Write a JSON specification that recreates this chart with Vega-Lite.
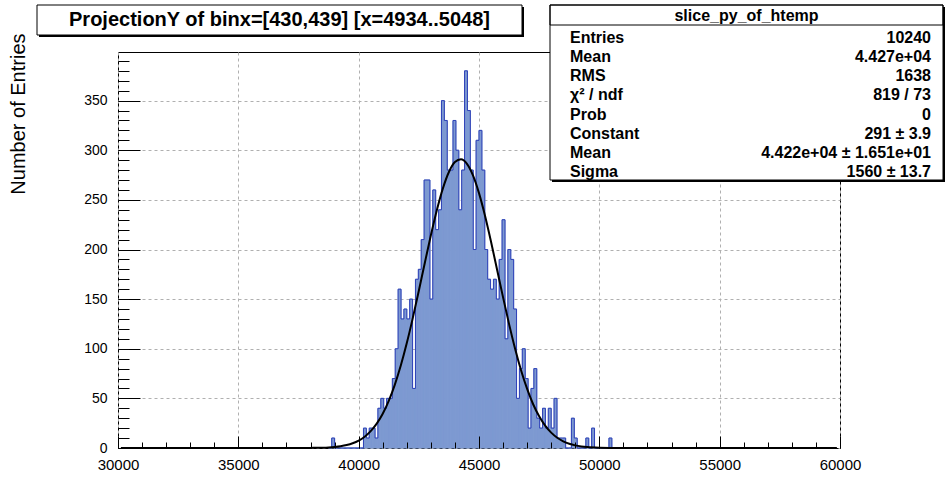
{
  "$schema": "https://vega.github.io/schema/vega-lite/v6.json",
  "autosize": {"type": "none"},
  "width": 722,
  "height": 396,
  "padding": {"left": 118, "top": 52, "right": 106, "bottom": 29},
  "background": "white",
  "config": {
    "view": {"stroke": "black", "strokeWidth": 1},
    "font": "Liberation Sans"
  },
  "datasets": {
    "hist": [
      {"lo": 38760, "hi": 38880, "n": 0},
      {"lo": 38880, "hi": 39000, "n": 10},
      {"lo": 39000, "hi": 39120, "n": 0},
      {"lo": 39120, "hi": 39240, "n": 0},
      {"lo": 39240, "hi": 39360, "n": 0},
      {"lo": 39360, "hi": 39480, "n": 0},
      {"lo": 39480, "hi": 39600, "n": 0},
      {"lo": 39600, "hi": 39720, "n": 0},
      {"lo": 39720, "hi": 39840, "n": 0},
      {"lo": 39840, "hi": 39960, "n": 0},
      {"lo": 39960, "hi": 40080, "n": 0},
      {"lo": 40080, "hi": 40200, "n": 0},
      {"lo": 40200, "hi": 40320, "n": 20},
      {"lo": 40320, "hi": 40440, "n": 10},
      {"lo": 40440, "hi": 40560, "n": 20},
      {"lo": 40560, "hi": 40680, "n": 20},
      {"lo": 40680, "hi": 40800, "n": 10},
      {"lo": 40800, "hi": 40920, "n": 40},
      {"lo": 40920, "hi": 41040, "n": 50},
      {"lo": 41040, "hi": 41160, "n": 40},
      {"lo": 41160, "hi": 41280, "n": 50},
      {"lo": 41280, "hi": 41400, "n": 50},
      {"lo": 41400, "hi": 41520, "n": 70},
      {"lo": 41520, "hi": 41640, "n": 100},
      {"lo": 41640, "hi": 41760, "n": 160},
      {"lo": 41760, "hi": 41880, "n": 130},
      {"lo": 41880, "hi": 42000, "n": 140},
      {"lo": 42000, "hi": 42120, "n": 130},
      {"lo": 42120, "hi": 42240, "n": 150},
      {"lo": 42240, "hi": 42360, "n": 60},
      {"lo": 42360, "hi": 42480, "n": 170},
      {"lo": 42480, "hi": 42600, "n": 180},
      {"lo": 42600, "hi": 42720, "n": 210},
      {"lo": 42720, "hi": 42840, "n": 270},
      {"lo": 42840, "hi": 42960, "n": 270},
      {"lo": 42960, "hi": 43080, "n": 150},
      {"lo": 43080, "hi": 43200, "n": 260},
      {"lo": 43200, "hi": 43320, "n": 220},
      {"lo": 43320, "hi": 43440, "n": 240},
      {"lo": 43440, "hi": 43560, "n": 350},
      {"lo": 43560, "hi": 43680, "n": 330},
      {"lo": 43680, "hi": 43800, "n": 280},
      {"lo": 43800, "hi": 43920, "n": 280},
      {"lo": 43920, "hi": 44040, "n": 330},
      {"lo": 44040, "hi": 44160, "n": 300},
      {"lo": 44160, "hi": 44280, "n": 240},
      {"lo": 44280, "hi": 44400, "n": 280},
      {"lo": 44400, "hi": 44520, "n": 380},
      {"lo": 44520, "hi": 44640, "n": 340},
      {"lo": 44640, "hi": 44760, "n": 280},
      {"lo": 44760, "hi": 44880, "n": 200},
      {"lo": 44880, "hi": 45000, "n": 310},
      {"lo": 45000, "hi": 45120, "n": 320},
      {"lo": 45120, "hi": 45240, "n": 280},
      {"lo": 45240, "hi": 45360, "n": 200},
      {"lo": 45360, "hi": 45480, "n": 170},
      {"lo": 45480, "hi": 45600, "n": 160},
      {"lo": 45600, "hi": 45720, "n": 170},
      {"lo": 45720, "hi": 45840, "n": 150},
      {"lo": 45840, "hi": 45960, "n": 190},
      {"lo": 45960, "hi": 46080, "n": 230},
      {"lo": 46080, "hi": 46200, "n": 110},
      {"lo": 46200, "hi": 46320, "n": 200},
      {"lo": 46320, "hi": 46440, "n": 190},
      {"lo": 46440, "hi": 46560, "n": 140},
      {"lo": 46560, "hi": 46680, "n": 50},
      {"lo": 46680, "hi": 46800, "n": 80},
      {"lo": 46800, "hi": 46920, "n": 100},
      {"lo": 46920, "hi": 47040, "n": 70},
      {"lo": 47040, "hi": 47160, "n": 20},
      {"lo": 47160, "hi": 47280, "n": 60},
      {"lo": 47280, "hi": 47400, "n": 80},
      {"lo": 47400, "hi": 47520, "n": 30},
      {"lo": 47520, "hi": 47640, "n": 20},
      {"lo": 47640, "hi": 47760, "n": 40},
      {"lo": 47760, "hi": 47880, "n": 20},
      {"lo": 47880, "hi": 48000, "n": 40},
      {"lo": 48000, "hi": 48120, "n": 20},
      {"lo": 48120, "hi": 48240, "n": 50},
      {"lo": 48240, "hi": 48360, "n": 10},
      {"lo": 48360, "hi": 48480, "n": 10},
      {"lo": 48480, "hi": 48600, "n": 10},
      {"lo": 48600, "hi": 48720, "n": 0},
      {"lo": 48720, "hi": 48840, "n": 0},
      {"lo": 48840, "hi": 48960, "n": 30},
      {"lo": 48960, "hi": 49080, "n": 10},
      {"lo": 49080, "hi": 49200, "n": 0},
      {"lo": 49200, "hi": 49320, "n": 0},
      {"lo": 49320, "hi": 49440, "n": 0},
      {"lo": 49440, "hi": 49560, "n": 10},
      {"lo": 49560, "hi": 49680, "n": 0},
      {"lo": 49680, "hi": 49800, "n": 20},
      {"lo": 49800, "hi": 49920, "n": 0},
      {"lo": 49920, "hi": 50040, "n": 0},
      {"lo": 50040, "hi": 50160, "n": 0},
      {"lo": 50160, "hi": 50280, "n": 0},
      {"lo": 50280, "hi": 50400, "n": 0},
      {"lo": 50400, "hi": 50520, "n": 10},
      {"lo": 50520, "hi": 50640, "n": 0}
    ],
    "fit": [
      {"fx": 30120, "fy": 0}, {"fx": 35000, "fy": 0}, {"fx": 36000, "fy": 0},
      {"fx": 37000, "fy": 0.01}, {"fx": 37500, "fy": 0.03}, {"fx": 38000, "fy": 0.1},
      {"fx": 38250, "fy": 0.19}, {"fx": 38500, "fy": 0.35}, {"fx": 38750, "fy": 0.62},
      {"fx": 39000, "fy": 1.08}, {"fx": 39250, "fy": 1.82}, {"fx": 39500, "fy": 2.99},
      {"fx": 39750, "fy": 4.8}, {"fx": 40000, "fy": 7.5}, {"fx": 40250, "fy": 11.42},
      {"fx": 40500, "fy": 16.95}, {"fx": 40750, "fy": 24.52}, {"fx": 41000, "fy": 34.57},
      {"fx": 41250, "fy": 47.52}, {"fx": 41500, "fy": 63.64}, {"fx": 41750, "fy": 83.11},
      {"fx": 42000, "fy": 105.7}, {"fx": 42250, "fy": 131.1}, {"fx": 42500, "fy": 158.5},
      {"fx": 42750, "fy": 186.7}, {"fx": 43000, "fy": 214.3}, {"fx": 43250, "fy": 239.8},
      {"fx": 43500, "fy": 261.6}, {"fx": 43750, "fy": 278.1}, {"fx": 44000, "fy": 288.1},
      {"fx": 44250, "fy": 290.9}, {"fx": 44500, "fy": 286.3}, {"fx": 44750, "fy": 274.7},
      {"fx": 45000, "fy": 256.8}, {"fx": 45250, "fy": 234.0}, {"fx": 45500, "fy": 207.8},
      {"fx": 45750, "fy": 179.9}, {"fx": 46000, "fy": 151.8}, {"fx": 46250, "fy": 124.8},
      {"fx": 46500, "fy": 100.0}, {"fx": 46750, "fy": 78.1}, {"fx": 47000, "fy": 59.5},
      {"fx": 47250, "fy": 44.1}, {"fx": 47500, "fy": 31.9}, {"fx": 47750, "fy": 22.5},
      {"fx": 48000, "fy": 15.45}, {"fx": 48250, "fy": 10.35}, {"fx": 48500, "fy": 6.75},
      {"fx": 48750, "fy": 4.29}, {"fx": 49000, "fy": 2.66}, {"fx": 49250, "fy": 1.61},
      {"fx": 49500, "fy": 0.95}, {"fx": 50000, "fy": 0.3}, {"fx": 50500, "fy": 0.09},
      {"fx": 51000, "fy": 0.02}, {"fx": 52000, "fy": 0}, {"fx": 59870, "fy": 0}
    ],
    "titlebox": [{"t": "ProjectionY of binx=[430,439] [x=4934..5048]"}],
    "statbox": [{"h": "slice_py_of_htemp"}],
    "stats": [
      {"row": 1, "label": "Entries", "value": "10240"},
      {"row": 2, "label": "Mean", "value": "4.427e+04"},
      {"row": 3, "label": "RMS", "value": "1638"},
      {"row": 4, "label": "χ² / ndf", "value": "819 / 73"},
      {"row": 5, "label": "Prob", "value": "0"},
      {"row": 6, "label": "Constant", "value": "291 ± 3.9"},
      {"row": 7, "label": "Mean", "value": "4.422e+04 ± 1.651e+01"},
      {"row": 8, "label": "Sigma", "value": "1560 ± 13.7"}
    ]
  },
  "layer": [
    {
      "layer": [
        {
          "data": {"name": "hist"},
          "mark": {"type": "rect", "fill": "#7d99d1", "stroke": "#7d99d1", "strokeWidth": 1},
          "encoding": {
            "x": {
              "field": "lo", "type": "quantitative",
              "scale": {"domain": [30000, 60000], "nice": false, "zero": false},
              "axis": {
                "values": [30000, 35000, 40000, 45000, 50000, 55000, 60000],
                "format": "d", "labelFont": "Liberation Sans", "labelFontSize": 15,
                "labelColor": "black", "labelPadding": 9, "ticks": false, "tickSize": 0,
                "domain": false, "grid": true, "gridColor": "#b0b0b0", "gridDash": [3, 3],
                "gridWidth": 1, "title": null, "labelFlush": false, "labelOverlap": false, "labelBound": false
              }
            },
            "x2": {"field": "hi"},
            "y": {
              "field": "n", "type": "quantitative",
              "scale": {"domain": [0, 399], "nice": false, "zero": true},
              "axis": {
                "values": [0, 50, 100, 150, 200, 250, 300, 350],
                "labelFont": "Liberation Sans", "labelFontSize": 14, "labelColor": "black",
                "labelPadding": 11, "ticks": false, "tickSize": 0, "domain": false,
                "grid": true, "gridColor": "#b0b0b0", "gridDash": [3, 3], "gridWidth": 1,
                "labelOverlap": false, "labelBound": false, "labelFlush": false,
                "title": "Number of Entries", "titleFont": "Liberation Sans",
                "titleFontWeight": "normal", "titleFontSize": 20, "titleColor": "black",
                "titleAngle": -90, "titleAlign": "right", "titleBaseline": "middle",
                "titleX": -100, "titleY": -19
              }
            },
            "y2": {"datum": 0}
          }
        },
        {
          "data": {"name": "hist"},
          "mark": {"type": "line", "interpolate": "step-after", "color": "#2f42b8", "strokeWidth": 1},
          "encoding": {
            "x": {
              "field": "lo", "type": "quantitative",
              "axis": {
                "orient": "bottom", "values": [30000, 35000, 40000, 45000, 50000, 55000, 60000],
                "labels": false, "grid": false, "domain": false, "ticks": true,
                "tickSize": -12, "tickColor": "black", "tickWidth": 1, "title": null, "zindex": 1
              }
            },
            "y": {
              "field": "n", "type": "quantitative",
              "axis": {
                "orient": "left", "values": [0, 50, 100, 150, 200, 250, 300, 350],
                "labels": false, "grid": false, "domain": false, "ticks": true,
                "tickSize": -22, "tickColor": "black", "tickWidth": 1, "title": null, "zindex": 1
              }
            }
          }
        },
        {
          "data": {"name": "fit"},
          "mark": {"type": "line", "interpolate": "monotone", "color": "black", "strokeWidth": 2},
          "encoding": {
            "x": {
              "field": "fx", "type": "quantitative",
              "axis": {
                "orient": "bottom",
                "values": [30000, 31000, 32000, 33000, 34000, 35000, 36000, 37000, 38000, 39000, 40000, 41000, 42000, 43000, 44000, 45000, 46000, 47000, 48000, 49000, 50000, 51000, 52000, 53000, 54000, 55000, 56000, 57000, 58000, 59000, 60000],
                "labels": false, "grid": false, "domain": false, "ticks": true,
                "tickSize": -6, "tickColor": "black", "tickWidth": 1, "title": null, "zindex": 1
              }
            },
            "y": {
              "field": "fy", "type": "quantitative",
              "axis": {
                "orient": "left",
                "values": [0, 10, 20, 30, 40, 50, 60, 70, 80, 90, 100, 110, 120, 130, 140, 150, 160, 170, 180, 190, 200, 210, 220, 230, 240, 250, 260, 270, 280, 290, 300, 310, 320, 330, 340, 350, 360, 370, 380, 390],
                "labels": false, "grid": false, "domain": false, "ticks": true,
                "tickSize": -11, "tickColor": "black", "tickWidth": 1, "title": null, "zindex": 1
              }
            }
          }
        }
      ],
      "resolve": {"axis": {"x": "independent", "y": "independent"}}
    },
    {
      "data": {"name": "titlebox"},
      "layer": [
        {
          "mark": {"type": "rect", "fill": "black"},
          "encoding": {
            "x": {"field": "t", "type": "nominal", "scale": {"type": "band", "range": [-79, 406], "paddingInner": 0, "paddingOuter": 0}, "axis": null},
            "y": {"field": "t", "type": "nominal", "scale": {"type": "band", "range": [-45, -15], "paddingInner": 0, "paddingOuter": 0}, "axis": null}
          }
        },
        {
          "mark": {"type": "rect", "fill": "white", "stroke": "black", "strokeWidth": 1},
          "encoding": {
            "x": {"field": "t", "type": "nominal", "scale": {"type": "band", "range": [-81, 404], "paddingInner": 0, "paddingOuter": 0}, "axis": null},
            "y": {"field": "t", "type": "nominal", "scale": {"type": "band", "range": [-47, -17], "paddingInner": 0, "paddingOuter": 0}, "axis": null}
          }
        },
        {
          "mark": {"type": "text", "font": "Liberation Sans", "fontWeight": "bold", "fontSize": 20, "align": "center", "baseline": "middle", "color": "black"},
          "encoding": {
            "text": {"field": "t"},
            "x": {"field": "t", "type": "nominal", "scale": {"type": "band", "range": [-81, 404], "paddingInner": 0, "paddingOuter": 0}, "axis": null},
            "y": {"field": "t", "type": "nominal", "scale": {"type": "band", "range": [-47, -17], "paddingInner": 0, "paddingOuter": 0}, "axis": null}
          }
        }
      ],
      "resolve": {"scale": {"x": "independent", "y": "independent"}}
    },
    {
      "layer": [
        {
          "data": {"name": "statbox"},
          "mark": {"type": "rect", "fill": "black"},
          "encoding": {
            "x": {"field": "h", "type": "nominal", "scale": {"type": "band", "range": [434, 827], "paddingInner": 0, "paddingOuter": 0}, "axis": null},
            "y": {"field": "h", "type": "nominal", "scale": {"type": "band", "range": [-45, 130], "paddingInner": 0, "paddingOuter": 0}, "axis": null}
          }
        },
        {
          "data": {"name": "statbox"},
          "mark": {"type": "rect", "fill": "white", "stroke": "black", "strokeWidth": 1},
          "encoding": {
            "x": {"field": "h", "type": "nominal", "scale": {"type": "band", "range": [432, 825], "paddingInner": 0, "paddingOuter": 0}, "axis": null},
            "y": {"field": "h", "type": "nominal", "scale": {"type": "band", "range": [-47, 128], "paddingInner": 0, "paddingOuter": 0}, "axis": null}
          }
        },
        {
          "data": {"name": "statbox"},
          "mark": {"type": "rect", "fillOpacity": 0, "stroke": "black", "strokeWidth": 1},
          "encoding": {
            "x": {"field": "h", "type": "nominal", "scale": {"type": "band", "range": [432, 825], "paddingInner": 0, "paddingOuter": 0}, "axis": null},
            "y": {"field": "h", "type": "nominal", "scale": {"type": "band", "range": [-47, -27], "paddingInner": 0, "paddingOuter": 0}, "axis": null}
          }
        },
        {
          "data": {"name": "statbox"},
          "mark": {"type": "text", "font": "Liberation Sans", "fontWeight": "bold", "fontSize": 16, "align": "center", "baseline": "middle", "color": "black"},
          "encoding": {
            "text": {"field": "h"},
            "x": {"field": "h", "type": "nominal", "scale": {"type": "band", "range": [432, 825], "paddingInner": 0, "paddingOuter": 0}, "axis": null},
            "y": {"field": "h", "type": "nominal", "scale": {"type": "band", "range": [-46, -26], "paddingInner": 0, "paddingOuter": 0}, "axis": null}
          }
        },
        {
          "data": {"name": "stats"},
          "mark": {"type": "text", "font": "Liberation Sans", "fontWeight": "bold", "fontSize": 16, "align": "left", "baseline": "middle", "color": "black"},
          "encoding": {
            "text": {"field": "label"},
            "x": {"datum": "l", "type": "nominal", "scale": {"type": "point", "domain": ["l", "r"], "range": [452, 813], "padding": 0}, "axis": null},
            "y": {"field": "row", "type": "ordinal", "scale": {"type": "point", "range": [-14, 120], "padding": 0}, "axis": null}
          }
        },
        {
          "data": {"name": "stats"},
          "mark": {"type": "text", "font": "Liberation Sans", "fontWeight": "bold", "fontSize": 16, "align": "right", "baseline": "middle", "color": "black"},
          "encoding": {
            "text": {"field": "value"},
            "x": {"datum": "r", "type": "nominal", "scale": {"type": "point", "domain": ["l", "r"], "range": [452, 813], "padding": 0}, "axis": null},
            "y": {"field": "row", "type": "ordinal", "scale": {"type": "point", "range": [-14, 120], "padding": 0}, "axis": null}
          }
        }
      ],
      "resolve": {"scale": {"x": "independent", "y": "independent"}}
    }
  ],
  "resolve": {"scale": {"x": "independent", "y": "independent"}, "axis": {"x": "independent", "y": "independent"}}
}
